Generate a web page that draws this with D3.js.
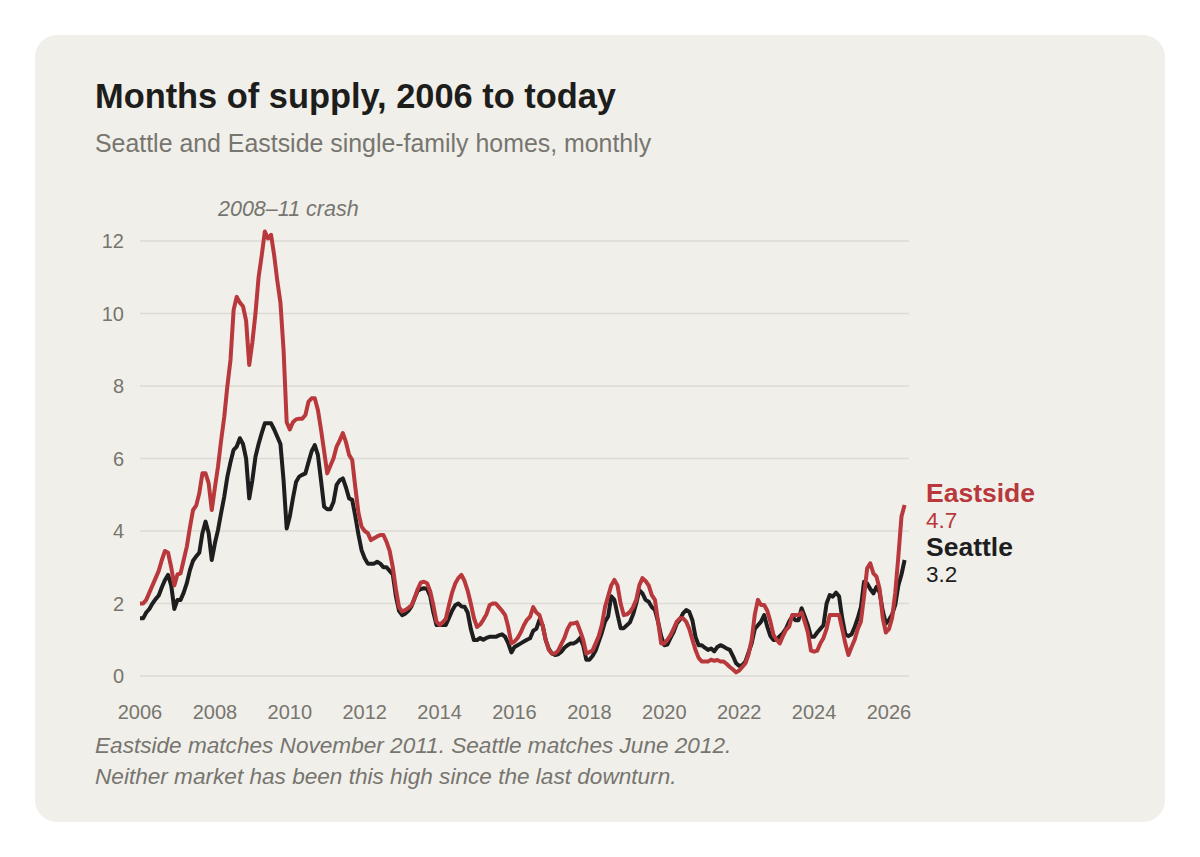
<!DOCTYPE html>
<html><head><meta charset="utf-8">
<script src="https://cdn.jsdelivr.net/npm/d3@7"></script>
<style>body{margin:0;background:#fff;font-family:"Liberation Sans",Arial,sans-serif}</style>
</head><body>
<svg id="c" width="1200" height="857"></svg>
<script>
const startYear = 2006;
const eastside = [
 2.0,2.0,2.1,2.3,2.5,2.7,2.9,3.2,3.45,3.4,3.0,2.5,
 2.8,2.83,3.2,3.57,4.1,4.58,4.7,5.04,5.59,5.59,5.32,4.58,
 5.2,5.78,6.5,7.15,8.0,8.72,10.1,10.46,10.3,10.2,9.8,8.58,
 9.2,10.0,11.0,11.6,12.26,12.07,12.17,11.6,10.9,10.3,9.0,7.0,
 6.8,7.0,7.08,7.1,7.1,7.2,7.57,7.66,7.66,7.34,6.8,6.2,
 5.59,5.8,6.0,6.33,6.5,6.7,6.45,6.1,5.96,5.2,4.5,4.12,
 4.0,3.94,3.75,3.8,3.85,3.89,3.89,3.7,3.45,3.0,2.4,1.9,
 1.78,1.82,1.88,1.95,2.15,2.4,2.58,2.6,2.56,2.33,1.95,1.5,
 1.41,1.48,1.58,1.95,2.3,2.55,2.7,2.79,2.62,2.35,2.0,1.6,
 1.35,1.42,1.55,1.7,1.95,2.0,2.0,1.9,1.8,1.68,1.35,0.9,
 0.95,1.05,1.2,1.4,1.55,1.64,1.9,1.75,1.68,1.4,1.0,0.72,
 0.62,0.62,0.7,0.88,1.05,1.3,1.45,1.45,1.48,1.25,1.0,0.62,
 0.66,0.7,0.9,1.1,1.41,1.9,2.2,2.5,2.65,2.5,2.0,1.68,
 1.7,1.77,1.9,2.1,2.5,2.7,2.62,2.5,2.23,2.1,1.5,0.9,
 0.9,1.0,1.13,1.31,1.5,1.59,1.59,1.5,1.3,1.0,0.72,0.5,
 0.4,0.4,0.4,0.45,0.42,0.44,0.4,0.4,0.33,0.25,0.18,0.1,
 0.15,0.25,0.35,0.6,1.0,1.7,2.1,1.96,1.96,1.8,1.5,1.13,
 1.0,0.9,1.1,1.27,1.36,1.68,1.68,1.68,1.75,1.5,1.2,0.7,
 0.67,0.7,0.9,1.05,1.3,1.68,1.68,1.68,1.68,1.3,0.9,0.58,
 0.8,1.0,1.3,1.5,2.2,2.97,3.11,2.83,2.74,2.4,1.6,1.2,
 1.3,1.6,2.3,3.3,4.4,4.72
];
const seattle = [
 1.59,1.59,1.75,1.85,2.0,2.12,2.22,2.45,2.65,2.79,2.5,1.85,
 2.1,2.1,2.3,2.56,2.92,3.18,3.3,3.4,3.94,4.26,3.94,3.2,
 3.66,4.03,4.5,4.95,5.5,5.9,6.24,6.33,6.56,6.4,6.0,4.9,
 5.4,6.05,6.4,6.7,6.97,6.97,6.97,6.8,6.6,6.4,5.4,4.07,
 4.4,4.9,5.35,5.5,5.55,5.59,5.9,6.2,6.37,6.1,5.4,4.67,
 4.6,4.6,4.8,5.27,5.4,5.45,5.2,4.9,4.86,4.4,3.9,3.47,
 3.25,3.1,3.1,3.1,3.15,3.1,3.0,3.0,2.9,2.8,2.2,1.8,
 1.68,1.72,1.8,1.92,2.15,2.35,2.4,2.42,2.4,2.2,1.75,1.41,
 1.41,1.41,1.41,1.6,1.8,1.95,2.0,1.92,1.91,1.75,1.3,0.99,
 0.99,1.05,1.0,1.05,1.08,1.08,1.08,1.12,1.15,1.08,0.9,0.65,
 0.8,0.85,0.9,0.95,1.0,1.04,1.25,1.3,1.55,1.4,0.99,0.75,
 0.62,0.58,0.6,0.67,0.78,0.85,0.9,0.9,0.95,1.05,0.85,0.45,
 0.45,0.55,0.7,0.95,1.2,1.5,1.64,2.2,2.1,1.7,1.32,1.32,
 1.4,1.48,1.7,2.0,2.37,2.28,2.1,2.05,1.9,1.82,1.5,1.1,
 0.85,0.87,1.05,1.22,1.45,1.55,1.73,1.82,1.77,1.54,1.08,0.85,
 0.85,0.78,0.72,0.76,0.68,0.8,0.85,0.81,0.76,0.72,0.55,0.35,
 0.28,0.3,0.4,0.65,0.9,1.3,1.4,1.5,1.68,1.36,1.1,0.99,
 1.0,1.1,1.18,1.31,1.5,1.64,1.54,1.54,1.87,1.64,1.4,1.08,
 1.08,1.2,1.3,1.4,2.0,2.23,2.19,2.3,2.2,1.6,1.15,1.1,
 1.15,1.35,1.6,1.9,2.6,2.55,2.4,2.28,2.46,2.3,1.8,1.45,
 1.55,1.7,1.96,2.5,2.8,3.2
];
const yTicks = [0,2,4,6,8,10,12];
const xTicks = [2006,2008,2010,2012,2014,2016,2018,2020,2022,2024,2026];

const svg = d3.select("#c");
svg.append("rect").attr("x",35).attr("y",35).attr("width",1130).attr("height",787).attr("rx",22).attr("fill","#f0efea");
const x = d3.scaleLinear().domain([2006,2026]).range([140,889]);
const y = d3.scaleLinear().domain([0,12]).range([676,241]);
const gray="#77756f";
svg.append("text").attr("x",95).attr("y",108).attr("font-size",34.4).attr("font-weight","bold").attr("fill","#1d1d1b").text("Months of supply, 2006 to today");
svg.append("text").attr("x",95).attr("y",152).attr("font-size",24.9).attr("fill",gray).text("Seattle and Eastside single-family homes, monthly");
const grid = svg.append("g");
yTicks.forEach(t=>{
  grid.append("line").attr("x1",140).attr("x2",909).attr("y1",y(t)).attr("y2",y(t)).attr("stroke","#dcdad4").attr("stroke-width",1.3);
  grid.append("text").attr("x",124).attr("y",y(t)+7).attr("text-anchor","end").attr("font-size",20).attr("fill",gray).text(t);
});
xTicks.forEach(t=>{
  svg.append("text").attr("x",x(t)).attr("y",719).attr("text-anchor","middle").attr("font-size",20).attr("fill",gray).text(t);
});
const line = d3.line().x((d,i)=>x(startYear+i/12)).y(d=>y(d)).curve(d3.curveLinear);
svg.append("path").datum(seattle).attr("d",line).attr("fill","none").attr("stroke","#1e1e1e").attr("stroke-width",4).attr("stroke-linejoin","round");
svg.append("path").datum(eastside).attr("d",line).attr("fill","none").attr("stroke","#b8383c").attr("stroke-width",4).attr("stroke-linejoin","round");
svg.append("text").attr("x",218).attr("y",216).attr("font-size",21.5).attr("font-style","italic").attr("fill",gray).text("2008–11 crash");
svg.append("text").attr("x",926).attr("y",502).attr("font-size",26.5).attr("font-weight","bold").attr("fill","#b8383c").text("Eastside");
svg.append("text").attr("x",926).attr("y",528).attr("font-size",22.5).attr("fill","#b8383c").text(eastside[eastside.length-1].toFixed(1));
svg.append("text").attr("x",926).attr("y",556).attr("font-size",26.5).attr("font-weight","bold").attr("fill","#1e1e1e").text("Seattle");
svg.append("text").attr("x",926).attr("y",582).attr("font-size",22.5).attr("fill","#1e1e1e").text(seattle[seattle.length-1].toFixed(1));
svg.append("text").attr("x",95).attr("y",753).attr("font-size",22.6).attr("font-style","italic").attr("fill",gray).text("Eastside matches November 2011. Seattle matches June 2012.");
svg.append("text").attr("x",95).attr("y",784).attr("font-size",22.6).attr("font-style","italic").attr("fill",gray).text("Neither market has been this high since the last downturn.");
</script>
</body></html>
